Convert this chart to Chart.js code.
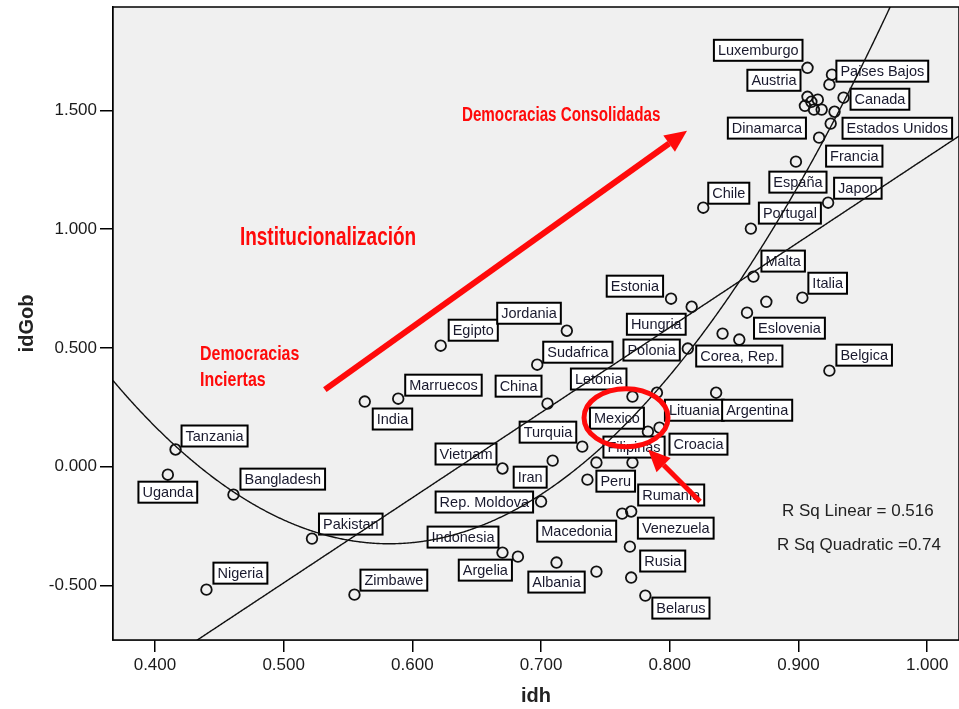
<!DOCTYPE html>
<html>
<head>
<meta charset="utf-8">
<script src="https://cdn.jsdelivr.net/npm/chart.js@4.4.1/dist/chart.umd.min.js"></script>
<style>
  html, body { margin: 0; padding: 0; background: #fff; }
  #wrap { width: 959px; height: 709px; }
</style>
</head>
<body>
<div id="wrap"><canvas id="scatterChart"></canvas></div>
<script>
// countries ('' = point without a label)
const countries = [
  'Tanzania', 'Uganda', 'Bangladesh', 'Nigeria', 'Pakistan', 'Zimbawe', 'India', 'Marruecos',
  'Egipto', 'Jordania', 'Sudafrica', 'China', 'Letonia', 'Turquia', 'Vietnam', 'Iran',
  'Rep. Moldova', 'Indonesia', 'Argelia', 'Albania', 'Peru', 'Filipinas', '', 'Mexico',
  'Croacia', 'Lituania', 'Argentina', 'Rumania', 'Macedonia', 'Venezuela', 'Rusia', '',
  'Belarus', 'Estonia', 'Hungria', 'Polonia', 'Corea, Rep.', '', 'Eslovenia', '',
  'Italia', 'Malta', 'Belgica', 'Portugal', 'Chile', 'Japon', 'España', 'Francia',
  '', 'Estados Unidos', 'Dinamarca', 'Austria', '', '', '', '',
  'Canada', 'Paises Bajos', '', 'Luxemburgo'
];
const idh = [
  0.416, 0.410, 0.461, 0.440, 0.522, 0.555, 0.563, 0.589,
  0.622, 0.720, 0.697, 0.705, 0.771, 0.732, 0.670, 0.709,
  0.700, 0.670, 0.682, 0.712, 0.736, 0.743, 0.771, 0.783,
  0.792, 0.790, 0.836, 0.770, 0.763, 0.769, 0.770, 0.743,
  0.781, 0.801, 0.817, 0.814, 0.854, 0.841, 0.860, 0.875,
  0.903, 0.865, 0.924, 0.863, 0.826, 0.923, 0.898, 0.916,
  0.925, 0.928, 0.912, 0.907, 0.915, 0.910, 0.905, 0.918,
  0.935, 0.924, 0.926, 0.907
];
const idGob = [
  0.072, -0.034, -0.118, -0.518, -0.303, -0.539, 0.274, 0.286,
  0.509, 0.572, 0.429, 0.265, 0.295, 0.084, -0.008, 0.025,
  -0.147, -0.362, -0.379, -0.404, -0.055, 0.017, 0.017, 0.147,
  0.164, 0.311, 0.311, -0.189, -0.198, -0.337, -0.467, -0.442,
  -0.543, 0.707, 0.673, 0.497, 0.535, 0.560, 0.648, 0.694,
  0.711, 0.800, 0.404, 1.002, 1.090, 1.111, 1.284, 1.385,
  1.444, 1.494, 1.503, 1.557, 1.545, 1.536, 1.519, 1.503,
  1.553, 1.608, 1.650, 1.679
];
const xTicks = [0.4, 0.5, 0.6, 0.7, 0.8, 0.9, 1.0];
const yTicks = [-0.5, 0, 0.5, 1.0, 1.5];

// fitted curves, coefficients from the constant term up
const linearFit = [-2.282, 3.585];
const quadraticFit = [4.729, -17.367, 14.92];
const rSqLinear = 0.516;
const rSqQuadratic = 0.74;

// label box placement: [dx, dy, anchor] in px from the point
// anchor l = dx is the box's left edge, r = right edge, c = centre
const labelPlace = {
  'Tanzania': [6, -24, 'l'], 'Uganda': [0, 7, 'c'], 'Bangladesh': [7, -26, 'l'],
  'Nigeria': [7, -27, 'l'], 'Pakistan': [7, -25, 'l'], 'Zimbawe': [6, -25, 'l'],
  'India': [8, 7, 'l'], 'Marruecos': [7, -24, 'l'], 'Egipto': [8, -26, 'l'],
  'Jordania': [-6, -28, 'r'], 'Sudafrica': [6, -23, 'l'], 'China': [-6, -28, 'r'],
  'Letonia': [-6, -28, 'r'], 'Turquia': [-6, -25, 'r'], 'Vietnam': [-6, -25, 'r'],
  'Iran': [-6, 6, 'r'], 'Rep. Moldova': [-8, -10, 'r'], 'Indonesia': [-4, -26, 'r'],
  'Argelia': [-6, 3, 'r'], 'Albania': [0, 9, 'c'], 'Peru': [9, -9, 'l'],
  'Filipinas': [7, -26, 'l'], 'Mexico': [-4, -24, 'r'], 'Croacia': [10, 6, 'l'],
  'Lituania': [8, 7, 'l'], 'Argentina': [6, 7, 'l'], 'Rumania': [7, -27, 'l'],
  'Macedonia': [-6, 7, 'r'], 'Venezuela': [8, -29, 'l'], 'Rusia': [9, -27, 'l'],
  'Belarus': [7, 2, 'l'], 'Estonia': [-8, -23, 'r'], 'Hungria': [-6, 7, 'r'],
  'Polonia': [-8, -9, 'r'], 'Corea, Rep.': [0, 6, 'c'], 'Eslovenia': [7, 5, 'l'],
  'Italia': [6, -25, 'l'], 'Malta': [8, -26, 'l'], 'Belgica': [7, -26, 'l'],
  'Portugal': [8, -26, 'l'], 'Chile': [5, -25, 'l'], 'Japon': [6, -25, 'l'],
  'España': [2, 10, 'c'], 'Francia': [7, 8, 'l'], 'Estados Unidos': [8, 6, 'l'],
  'Dinamarca': [-8, 8, 'r'], 'Austria': [-7, -27, 'r'], 'Canada': [7, -9, 'l'],
  'Paises Bajos': [7, -24, 'l'], 'Luxemburgo': [-5, -28, 'r']
};

// red notes drawn over the plot (data coordinates)
const notes = [
  { text: 'Democracias Consolidadas', x: 0.6385, y: 1.456, size: 20 },
  { text: 'Institucionalización', x: 0.466, y: 0.934, size: 25 },
  { text: 'Democracias', x: 0.435, y: 0.450, size: 21 },
  { text: 'Inciertas', x: 0.435, y: 0.341, size: 21 }
];
const arrows = [
  { from: [0.532, 0.324], to: [0.8134, 1.414], width: 6 },
  { from: [0.8235, -0.147], to: [0.7831, 0.072], width: 5 }
];
const ring = { x: 0.766, y: 0.206 };

const FONT = "'Liberation Sans', Arial, sans-serif";
const NOTE_SQUEEZE = 0.76; // narrow look for the red headings

function polyAt(coeffs, v) {
  let y = 0;
  coeffs.forEach((c, i) => { y += c * Math.pow(v, i); });
  return y;
}

function drawFit(chart, coeffs) {
  const ctx = chart.ctx, area = chart.chartArea;
  const xs = chart.scales.x, ys = chart.scales.y;
  ctx.save();
  ctx.beginPath();
  ctx.rect(area.left, area.top, area.right - area.left, area.bottom - area.top);
  ctx.clip();
  ctx.beginPath();
  for (let px = area.left; px <= area.right; px += 1) {
    const py = ys.getPixelForValue(polyAt(coeffs, xs.getValueForPixel(px)));
    if (px === area.left) ctx.moveTo(px, py); else ctx.lineTo(px, py);
  }
  ctx.strokeStyle = '#111';
  ctx.lineWidth = 1.4;
  ctx.stroke();
  ctx.restore();
}

function drawArrow(ctx, x1, y1, x2, y2, w) {
  const ang = Math.atan2(y2 - y1, x2 - x1);
  const head = 22, half = 10;
  const bx = x2 - head * Math.cos(ang), by = y2 - head * Math.sin(ang);
  ctx.beginPath();
  ctx.moveTo(x1, y1);
  ctx.lineTo(bx, by);
  ctx.lineWidth = w;
  ctx.stroke();
  ctx.beginPath();
  ctx.moveTo(x2, y2);
  ctx.lineTo(bx + half * Math.sin(ang), by - half * Math.cos(ang));
  ctx.lineTo(bx - half * Math.sin(ang), by + half * Math.cos(ang));
  ctx.closePath();
  ctx.fill();
}

const plotFrame = {
  id: 'plotFrame',
  beforeDatasetsDraw(chart) {
    const { ctx, chartArea: a } = chart;
    ctx.save();
    ctx.fillStyle = '#f0f0f0';
    ctx.fillRect(a.left, a.top, a.right - a.left, a.bottom - a.top);
    ctx.restore();
  },
  afterDatasetsDraw(chart) {
    const { ctx, chartArea: a } = chart;
    const xs = chart.scales.x, ys = chart.scales.y;

    // country label boxes
    ctx.save();
    ctx.font = '14.5px ' + FONT;
    ctx.textBaseline = 'middle';
    countries.forEach((name, i) => {
      if (!name) return;
      const [dx, dy, anchor] = labelPlace[name];
      const px = xs.getPixelForValue(idh[i]);
      const py = ys.getPixelForValue(idGob[i]);
      const w = ctx.measureText(name).width + 8, h = 21;
      let left = px + dx;
      if (anchor === 'r') left = px + dx - w;
      if (anchor === 'c') left = px + dx - w / 2;
      const top = py + dy;
      ctx.fillStyle = '#fff';
      ctx.fillRect(left, top, w, h);
      ctx.strokeStyle = '#000';
      ctx.lineWidth = 2;
      ctx.strokeRect(left, top, w, h);
      ctx.fillStyle = '#1a1a2e';
      ctx.fillText(name, left + 4, top + h / 2 + 1);
    });
    ctx.restore();

    drawFit(chart, linearFit);
    drawFit(chart, quadraticFit);

    // frame round the plot area
    ctx.save();
    ctx.strokeStyle = '#000';
    ctx.lineWidth = 1.5;
    ctx.strokeRect(a.left, a.top, a.right - a.left, a.bottom - a.top);

    // R squared notes
    ctx.fillStyle = '#222';
    ctx.font = '17px ' + FONT;
    ctx.textBaseline = 'alphabetic';
    ctx.fillText('R Sq Linear = ' + rSqLinear.toFixed(3), xs.getPixelForValue(0.8872), ys.getPixelForValue(-0.206));
    ctx.fillText('R Sq Quadratic =' + rSqQuadratic, xs.getPixelForValue(0.8833), ys.getPixelForValue(-0.352));

    // red annotations
    ctx.fillStyle = '#ff0a0a';
    ctx.strokeStyle = '#ff0a0a';
    notes.forEach(n => {
      ctx.save();
      ctx.translate(xs.getPixelForValue(n.x), ys.getPixelForValue(n.y));
      ctx.scale(NOTE_SQUEEZE, 1);
      ctx.font = 'bold ' + n.size + 'px ' + FONT;
      ctx.fillText(n.text, 0, 0);
      ctx.restore();
    });
    arrows.forEach(ar => {
      drawArrow(ctx,
        xs.getPixelForValue(ar.from[0]), ys.getPixelForValue(ar.from[1]),
        xs.getPixelForValue(ar.to[0]), ys.getPixelForValue(ar.to[1]), ar.width);
    });
    ctx.beginPath();
    ctx.ellipse(xs.getPixelForValue(ring.x), ys.getPixelForValue(ring.y), 42, 29, 0, 0, Math.PI * 2);
    ctx.lineWidth = 5;
    ctx.stroke();
    ctx.restore();
  }
};

new Chart(document.getElementById('scatterChart'), {
  type: 'scatter',
  data: {
    datasets: [{
      label: 'idGob',
      data: idh.map((v, i) => ({ x: v, y: idGob[i] })),
      pointStyle: 'circle',
      pointRadius: 5.3,
      pointBorderWidth: 1.8,
      pointBorderColor: '#111',
      pointBackgroundColor: 'rgba(0,0,0,0)'
    }]
  },
  options: {
    responsive: true,
    maintainAspectRatio: false,
    animation: false,
    layout: { autoPadding: false, padding: { top: 7, right: 0, left: 0, bottom: 0 } },
    plugins: {
      legend: { display: false },
      tooltip: { enabled: false }
    },
    scales: {
      x: {
        type: 'linear',
        min: 0.3674,
        max: 1.0247,
        afterBuildTicks: s => { s.ticks = xTicks.map(v => ({ value: v })); },
        afterFit: s => { s.height = 69; s.paddingLeft = 0; s.paddingRight = 0; },
        ticks: {
          callback: v => v.toFixed(3),
          font: { family: FONT, size: 17 },
          color: '#1a1a1a',
          padding: 3,
          maxRotation: 0
        },
        grid: { drawOnChartArea: false, tickLength: 12, color: '#000', lineWidth: 1.5 },
        border: { color: '#000', width: 1.5 },
        title: {
          display: true,
          text: 'idh',
          font: { family: FONT, size: 20, weight: 'bold' },
          color: '#222',
          padding: { bottom: 1 }
        }
      },
      y: {
        type: 'linear',
        min: -0.73,
        max: 1.935,
        afterBuildTicks: s => { s.ticks = yTicks.map(v => ({ value: v })); },
        afterFit: s => { s.width = 113; s.paddingTop = 0; s.paddingBottom = 0; },
        ticks: {
          callback: v => v.toFixed(3),
          font: { family: FONT, size: 17 },
          color: '#1a1a1a',
          padding: 3
        },
        grid: { drawOnChartArea: false, tickLength: 13, color: '#000', lineWidth: 1.5 },
        border: { color: '#000', width: 1.5 },
        title: {
          display: true,
          text: 'idGob',
          font: { family: FONT, size: 20, weight: 'bold' },
          color: '#222',
          padding: { top: 15 }
        }
      }
    }
  },
  plugins: [plotFrame]
});
</script>
</body>
</html>
